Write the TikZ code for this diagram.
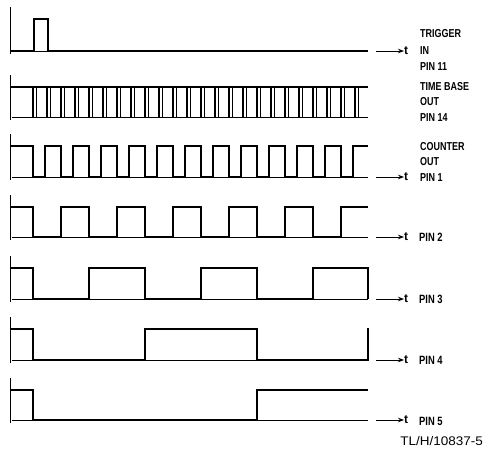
\documentclass[tikz,border=0pt]{standalone}
\usepackage{fontspec}
\usepackage{graphicx}
\setmainfont{Liberation Sans}
\newfontfamily\lblfont[FakeStretch=0.78]{Liberation Sans}
\newfontfamily\tlfont[FakeStretch=1.08]{Liberation Sans}
\usetikzlibrary{arrows.meta}
\begin{document}
\begin{tikzpicture}[x=1pt,y=-1pt,
  wave/.style={line width=1.8pt,line join=miter},
  axisline/.style={line width=1pt},
  baseline/.style={line width=0.9pt},
  comb/.style={line width=1.6pt},
  combthin/.style={line width=0.9pt},
  tarrow/.style={line width=1pt,-{Stealth[length=6pt,width=4.5pt]}},
  tlabel/.style={inner sep=0pt,anchor=west,font=\lblfont\bfseries\fontsize{11.5}{13}\selectfont},
  plabel/.style={inner sep=0pt,anchor=west,font=\lblfont\bfseries\fontsize{12}{14}\selectfont}]
\useasboundingbox (0,0) rectangle (491,450);
% axis ticks
\foreach \h/\l in {19/51,87/117,146/177,207/237,268/299,329/360,390/420}{
  \draw[axisline] (10,\h-12) -- (10,\l+3);
  \draw[baseline] (12,\l) -- (368,\l);
}
% row 1 trigger
\draw[wave] (10,51) -- (34,51) -- (34,19) -- (48,19) -- (48,51) -- (368,51);
% row 2 time base
\draw[wave] (10,87) -- (368,87);
\foreach \k in {0,...,23}{
  \draw[comb] ({33+14*\k},87) -- ({33+14*\k},117);
  \draw[combthin] ({36+14*\k},87) -- ({36+14*\k},117);
}
% row 3 counter out
\draw[wave] (10,146) foreach \k in {0,...,11}{ -- ({33+28*\k},146) -- ({33+28*\k},177) -- ({45+28*\k},177) -- ({45+28*\k},146)} -- (368,146);
% row 4 pin 2
\draw[wave] (10,207) foreach \k in {0,...,5}{ -- ({33+56*\k},207) -- ({33+56*\k},237) -- ({61+56*\k},237) -- ({61+56*\k},207)} -- (368,207);
% row 5 pin 3
\draw[wave] (10,268) -- (33,268) -- (33,299) -- (89,299) -- (89,268) -- (145,268) -- (145,299) -- (201,299) -- (201,268) -- (257,268) -- (257,299) -- (313,299) -- (313,268) -- (368,268) -- (368,299);
% row 6 pin 4
\draw[wave] (10,329) -- (33,329) -- (33,360) -- (145,360) -- (145,329) -- (257,329) -- (257,360) -- (368,360) -- (368,328);
% row 7 pin 5
\draw[wave] (10,390) -- (33,390) -- (33,420) -- (257,420) -- (257,390) -- (368,390);
% t arrows
\foreach \n/\l in {a/51,c/177,d/237,e/299,f/360,g/420}{
  \node[inner sep=0pt,anchor=west,font=\bfseries\fontsize{12}{14}\selectfont] (t\n) at (404,\l) {t};
  \coordinate (s\n) at (376,\l);
  \draw[tarrow] (s\n) -- (t\n.west);
}
% labels
\node[tlabel] (l1a) at (420,34) {TRIGGER};
\node[tlabel] (l1b) at (420,51) {IN};
\node[tlabel] (l1c) at (420,67) {PIN 11};
\node[tlabel] (l2a) at (420,87) {TIME BASE};
\node[tlabel] (l2b) at (420,102) {OUT};
\node[tlabel] (l2c) at (420,118) {PIN 14};
\node[tlabel] (l3a) at (420,147) {COUNTER};
\node[tlabel] (l3b) at (420,162) {OUT};
\node[tlabel] (l3c) at (420,178) {PIN 1};
\node[plabel] (l4) at (419,237) {PIN 2};
\node[plabel] (l5) at (419,299) {PIN 3};
\node[plabel] (l6) at (419,360) {PIN 4};
\node[plabel] (l7) at (419,421) {PIN 5};
\node[inner sep=0pt,anchor=east,font=\tlfont\fontsize{12.5}{14}\selectfont] (tl) at (483,441) {TL/H/10837-5};
\end{tikzpicture}
\end{document}
